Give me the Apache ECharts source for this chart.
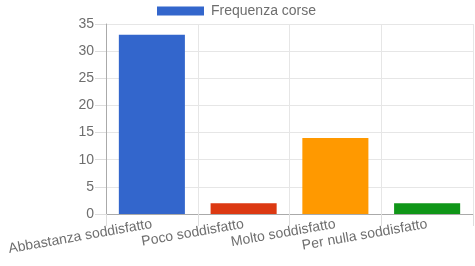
<!DOCTYPE html>
<html>
<head>
<meta charset="utf-8">
<script src="https://cdn.jsdelivr.net/npm/echarts@6/dist/echarts.min.js"></script>
<style>html,body{margin:0;padding:0;background:#fff}#c{width:475px;height:266px}</style>
</head>
<body>
<div id="c"></div>
<script>
const categories = ["Abbastanza soddisfatto", "Poco soddisfatto", "Molto soddisfatto", "Per nulla soddisfatto"];
const values = [33, 2, 14, 2];
const barColors = ["#3366cc", "#dc3912", "#ff9900", "#109618"];
const seriesName = "Frequenza corse";

const chart = echarts.init(document.getElementById('c'), null, {renderer: 'canvas'});
chart.setOption({
  animation: false,
  textStyle: {fontFamily: 'Liberation Sans, Arial, sans-serif'},
  legend: {
    top: 4,
    left: 157,
    padding: 0,
    icon: 'rect',
    itemWidth: 47,
    itemHeight: 9,
    textStyle: {color: '#6e6e6e', fontSize: 14, lineHeight: 14, padding: [0, 0, 0, 2]},
    data: [{name: seriesName, itemStyle: {color: '#3366cc'}}]
  },
  grid: {left: 106, right: 2, top: 24, bottom: 52, containLabel: false},
  xAxis: {
    type: 'category',
    data: categories,
    axisLine: {lineStyle: {color: '#aaa'}},
    axisTick: {show: true, length: 12, lineStyle: {color: '#ddd'}},
    splitLine: {show: true, lineStyle: {color: '#e6e6e6'}},
    axisLabel: {rotate: 10, color: '#6e6e6e', fontSize: 14, margin: 10, interval: 0}
  },
  yAxis: {
    type: 'value',
    min: 0, max: 35, interval: 5,
    axisLine: {show: true, lineStyle: {color: '#aaa'}},
    axisTick: {show: true, length: 11, lineStyle: {color: '#ddd'}},
    splitLine: {lineStyle: {color: '#e6e6e6'}},
    axisLabel: {color: '#6e6e6e', fontSize: 14, margin: 12}
  },
  series: [{
    name: seriesName,
    type: 'bar',
    barCategoryGap: '28%',
    data: values.map((v, i) => ({value: v, itemStyle: {color: barColors[i]}})),
    itemStyle: {color: '#3366cc'}
  }]
});
</script>
</body>
</html>
